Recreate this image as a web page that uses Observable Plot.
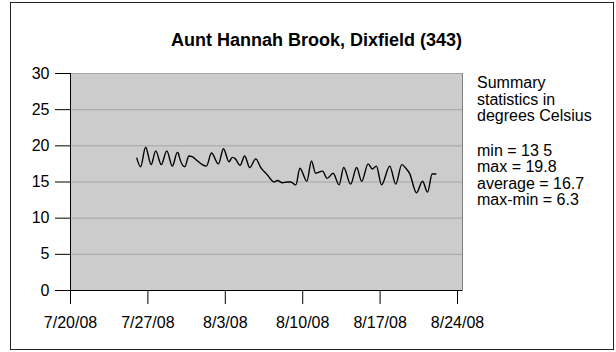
<!DOCTYPE html>
<html>
<head>
<meta charset="utf-8">
<script src="https://cdn.jsdelivr.net/npm/d3@7"></script>
<script src="https://cdn.jsdelivr.net/npm/@observablehq/plot@0.6"></script>
<style>
  html, body { margin: 0; padding: 0; background: #fff; }
  #wrap { position: relative; width: 616px; height: 352px; overflow: hidden; font-family: "Liberation Sans", Arial, sans-serif; color: #000; }
  #border { position: absolute; left: 10px; top: 2px; width: 604px; height: 348px; border: 1px solid #222; box-sizing: border-box; pointer-events: none; }
  #title { position: absolute; left: 0; width: 633px; top: 31px; text-align: center; font-weight: bold; font-size: 18px; line-height: 18px; white-space: nowrap; }
  #summary { position: absolute; left: 477px; top: 75px; font-size: 16px; line-height: 16.5px; white-space: nowrap; }
  #summary .gap { height: 18px; }
  #chart { position: absolute; left: 0; top: 0; }
</style>
</head>
<body>
<div id="wrap">
  <div id="chart"></div>
  <div id="border"></div>
  <div id="title"></div>
  <div id="summary"></div>
</div>
<script>
// ---- data ----
const title = "Aunt Hannah Brook, Dixfield (343)";
const summaryHeader = ["Summary", "statistics in", "degrees Celsius"];
const summaryStats = ["min = 13 5", "max = 19.8", "average = 16.7", "max-min = 6.3"];

const times = ["2008-07-26T00:00","2008-07-26T08:00","2008-07-26T19:00","2008-07-27T07:00","2008-07-27T17:00","2008-07-28T05:00","2008-07-28T17:00","2008-07-29T05:00","2008-07-29T16:00","2008-07-29T18:00","2008-07-29T20:00","2008-07-30T08:00","2008-07-30T17:00","2008-07-31T00:00","2008-07-31T12:00","2008-07-31T22:00","2008-08-01T07:00","2008-08-01T18:00","2008-08-02T09:00","2008-08-02T20:00","2008-08-03T08:00","2008-08-03T15:00","2008-08-03T22:00","2008-08-04T08:00","2008-08-04T18:00","2008-08-05T05:00","2008-08-05T18:00","2008-08-06T05:00","2008-08-06T19:00","2008-08-07T10:00","2008-08-07T17:00","2008-08-08T04:00","2008-08-08T14:00","2008-08-08T22:00","2008-08-09T09:00","2008-08-09T18:00","2008-08-10T09:00","2008-08-10T19:00","2008-08-11T04:00","2008-08-11T19:00","2008-08-12T05:00","2008-08-12T18:00","2008-08-13T07:00","2008-08-13T17:00","2008-08-14T08:00","2008-08-14T21:00","2008-08-15T08:00","2008-08-15T22:00","2008-08-16T07:00","2008-08-16T16:00","2008-08-17T03:00","2008-08-17T21:00","2008-08-18T10:00","2008-08-18T23:00","2008-08-19T08:00","2008-08-19T16:00","2008-08-20T07:00","2008-08-20T20:00","2008-08-21T07:00","2008-08-21T17:00","2008-08-22T01:00"];
const temps = [18.3,17.1,19.8,17.4,19.3,17.4,19.3,17.2,19.1,19.0,18.5,17.1,18.6,18.5,17.9,17.4,17.2,19.0,17.5,19.6,17.8,18.4,18.2,17.3,18.6,17.0,18.2,17.0,16.0,15.0,15.2,14.9,15.0,15.0,14.6,16.9,15.1,17.9,16.2,16.5,15.5,16.2,14.6,17.0,14.7,17.0,15.1,17.5,16.8,17.2,14.6,17.2,14.7,17.4,16.9,16.2,13.5,15.1,13.6,16.1,16.1];

const xTicks = ["2008-07-20","2008-07-27","2008-08-03","2008-08-10","2008-08-17","2008-08-24"];
const xDomain = ["2008-07-20T00:00", "2008-08-24T10:50"];
const yTicks = [0, 5, 10, 15, 20, 25, 30];
const yDomain = [0, 30];

// ---- build ----
const parse = s => new Date(s + (s.length === 10 ? "T00:00Z" : "Z"));
const data = times.map((t, i) => ({date: parse(t), temp: temps[i]}));
const xTickDates = xTicks.map(parse);
const fmt = d3.utcFormat("%-m/%-d/%y");

const chart = Plot.plot({
  width: 616,
  height: 352,
  marginLeft: 70,
  marginRight: 154,
  marginTop: 73,
  marginBottom: 62,
  style: {fontFamily: "'Liberation Sans', Arial, sans-serif", fontSize: "16px", color: "#000", background: "transparent", overflow: "visible"},
  x: {type: "utc", domain: xDomain.map(parse), ticks: xTickDates, tickFormat: fmt, tickSize: 14, tickPadding: 12, label: null},
  y: {domain: yDomain, ticks: yTicks, tickSize: 15, tickPadding: 6, label: null},
  marks: [
    Plot.frame({fill: "#cccccc", stroke: "#808080"}),
    Plot.ruleY(yTicks.filter(v => v > 0), {stroke: "#a4a4a4", strokeWidth: 1}),
    Plot.ruleX([parse(xDomain[0])], {stroke: "#000"}),
    Plot.ruleY([0], {stroke: "#000"}),
    Plot.line(data, {x: "date", y: "temp", stroke: "#000", strokeWidth: 1.4, curve: "monotone-x"}),
    Plot.axisX({ticks: xTickDates, tickFormat: fmt, tickSize: 14, tickPadding: 12, label: null, stroke: "#000"}),
    Plot.axisY({ticks: yTicks, tickSize: 15, tickPadding: 6, label: null, stroke: "#000"})
  ]
});
document.getElementById("chart").appendChild(chart);
document.getElementById("title").textContent = title;

const sum = document.getElementById("summary");
summaryHeader.forEach(s => { const d = document.createElement("div"); d.textContent = s; sum.appendChild(d); });
const gap = document.createElement("div"); gap.className = "gap"; sum.appendChild(gap);
summaryStats.forEach(s => { const d = document.createElement("div"); d.textContent = s; sum.appendChild(d); });
</script>
</body>
</html>
